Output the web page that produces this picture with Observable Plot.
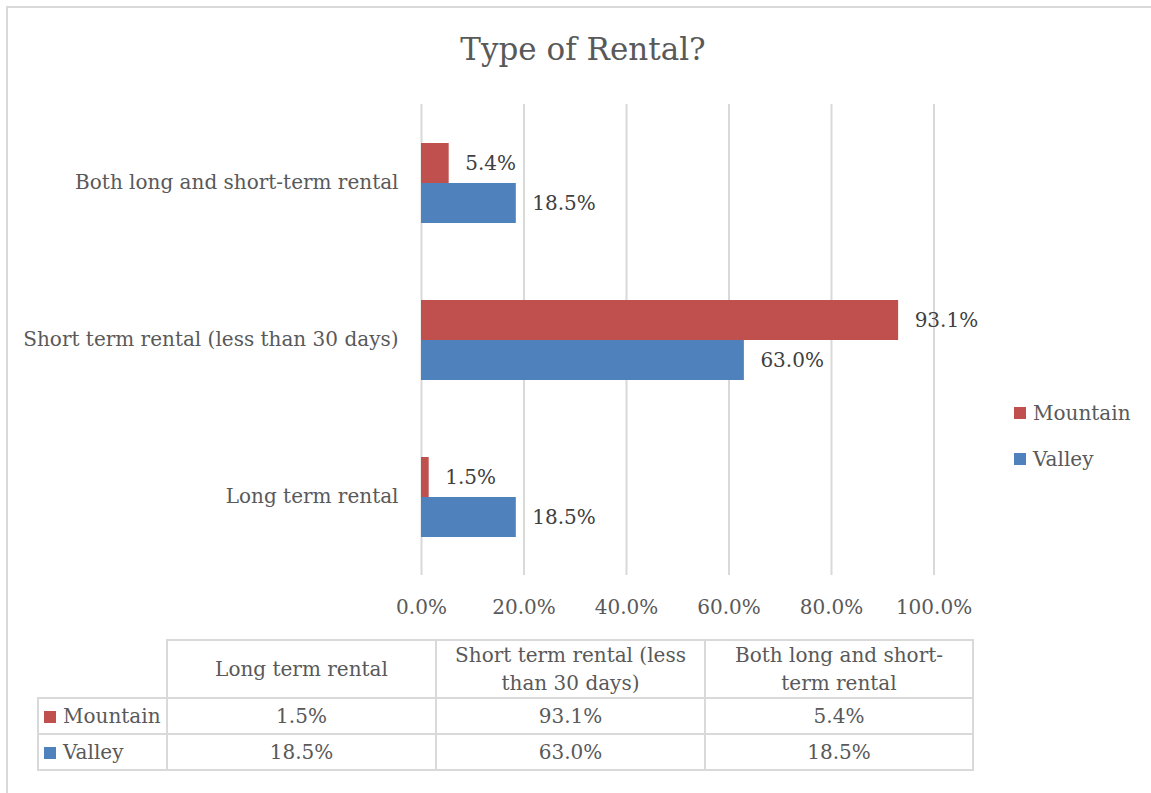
<!DOCTYPE html>
<html>
<head>
<meta charset="utf-8">
<script src="https://cdn.jsdelivr.net/npm/d3@7"></script>
<script src="https://cdn.jsdelivr.net/npm/@observablehq/plot@0.6"></script>
<style>
  html, body { margin: 0; padding: 0; background: #fff; }
  #wrap { position: relative; width: 1151px; height: 793px; overflow: hidden; font-family: "DejaVu Serif", serif; color: #595959; }
  #frame { position: absolute; left: 6px; top: 6px; width: 1200px; height: 900px; border-left: 2px solid #d9d9d9; border-top: 2px solid #d9d9d9; box-sizing: border-box; }
  #title { position: absolute; left: 0; top: 28px; width: 1166px; text-align: center; font-size: 31px; line-height: 42px; color: #595959; }
  #chart { position: absolute; left: 0; top: 0; }
  #legend { position: absolute; left: 1014px; top: 400px; font-size: 20px; }
  #legend .item { display: flex; align-items: center; height: 26px; margin-bottom: 20px; }
  .sw { display: inline-block; width: 12px; height: 12px; margin-right: 7px; }
  #table { position: absolute; left: 37px; top: 639px; border-collapse: collapse; font-size: 20px; color: #595959; }
  #table td { border: 2px solid #d9d9d9; text-align: center; padding: 0 12px; box-sizing: border-box; }
  #table tr.head td { height: 55px; line-height: 28px; }
  #table tr.row td { height: 36px; line-height: 24px; }
  #table td.corner { border-top: none; border-left: none; }
  #table td.lab { text-align: left; padding: 0 0 0 5px; white-space: nowrap; }
</style>
</head>
<body>
<div id="wrap">
  <div id="frame"></div>
  <div id="title"></div>
  <div id="chart"></div>
  <div id="legend"></div>
  <table id="table"></table>
</div>
<script>
// ---- data ----
const titleText = "Type of Rental?";
const categories = ["Long term rental", "Short term rental (less than 30 days)", "Both long and short-term rental"];
const seriesNames = ["Mountain", "Valley"];
const mountainValues = [1.5, 93.1, 5.4];
const valleyValues = [18.5, 63.0, 18.5];
const seriesColors = ["#C0504D", "#4F81BD"];
const xTicks = [0, 20, 40, 60, 80, 100];

const fmt = v => v.toFixed(1) + "%";
const seriesValues = [mountainValues, valleyValues];
const rows = [];
seriesNames.forEach((s, si) => categories.forEach((c, ci) => rows.push({series: s, category: c, value: seriesValues[si][ci]})));

document.getElementById("title").textContent = titleText;

const chart = Plot.plot({
  width: 1151,
  height: 640,
  marginLeft: 421,
  marginRight: 1151 - 933.5,
  marginTop: 103,
  marginBottom: 65,
  style: {fontFamily: "DejaVu Serif, serif", fontSize: "20px", color: "#595959", background: "transparent", overflow: "visible"},
  x: {domain: [0, 100], ticks: xTicks, tickFormat: fmt, tickSize: 0, tickPadding: 24, label: null},
  fy: {domain: categories.slice().reverse(), padding: 0, label: null, tickSize: 0, tickPadding: 23},
  y: {domain: seriesNames, paddingInner: 0, paddingOuter: 0.919, axis: null},
  color: {domain: seriesNames, range: seriesColors},
  marks: [
    Plot.gridX(xTicks, {stroke: "#d9d9d9", strokeOpacity: 1, strokeWidth: 2}),
    Plot.barX(rows, {x: "value", y: "series", fy: "category", fill: "series"}),
    Plot.text(rows, {x: "value", y: "series", fy: "category", text: d => fmt(d.value), textAnchor: "start", dx: 16, dy: 0, fill: "#404040", fontSize: 20})
  ]
});
document.getElementById("chart").appendChild(chart);

// legend (Mountain above Valley)
const legend = document.getElementById("legend");
seriesNames.forEach((s, i) => {
  const it = document.createElement("div");
  it.className = "item";
  it.innerHTML = `<span class="sw" style="background:${seriesColors[i]}"></span><span>${s}</span>`;
  legend.appendChild(it);
});

// data table
const table = document.getElementById("table");
const colWidths = [129, 269, 269, 268];
let html = `<colgroup>${colWidths.map(w => `<col style="width:${w}px">`).join("")}</colgroup>`;
html += `<tr class="head"><td class="corner"></td>${categories.map(c => `<td>${c}</td>`).join("")}</tr>`;
seriesNames.forEach((s, si) => {
  html += `<tr class="row"><td class="lab"><span class="sw" style="background:${seriesColors[si]}"></span>${s}</td>${seriesValues[si].map(v => `<td>${fmt(v)}</td>`).join("")}</tr>`;
});
table.innerHTML = html;
table.style.tableLayout = "fixed";
table.style.width = colWidths.reduce((a, b) => a + b, 0) + "px";
</script>
</body>
</html>
